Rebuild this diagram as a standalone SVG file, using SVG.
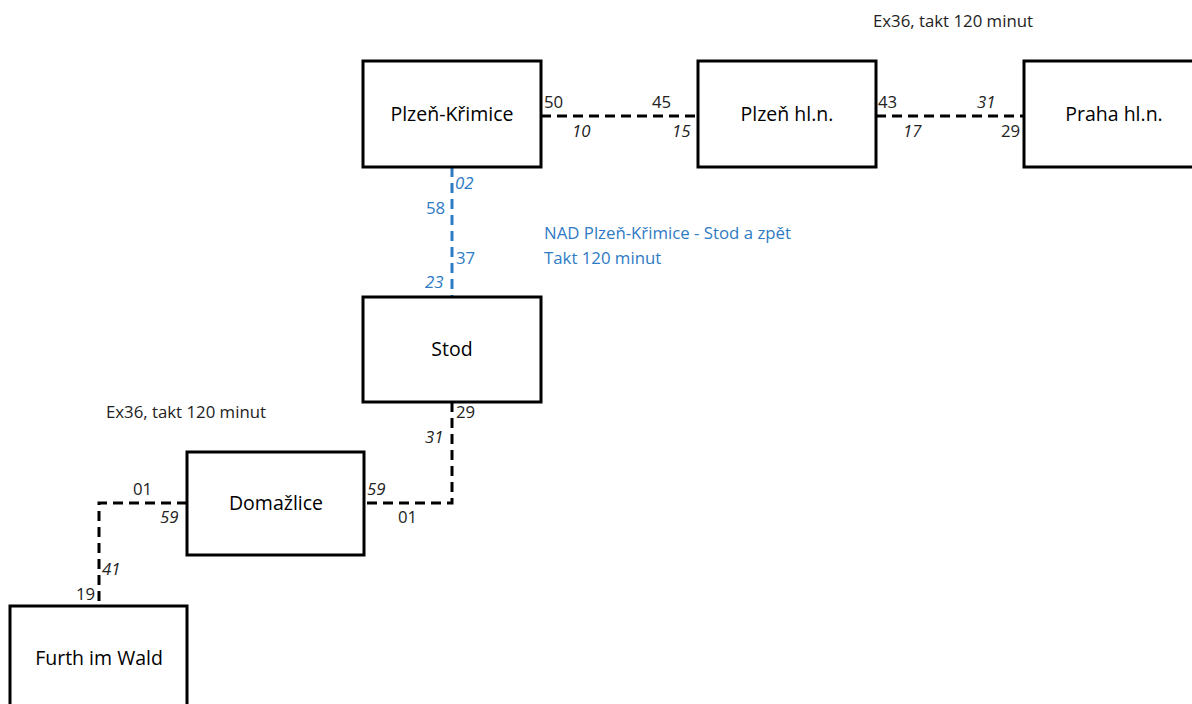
<svg xmlns="http://www.w3.org/2000/svg" width="1192" height="704" viewBox="0 0 1192 704">
<style>
.box{fill:#fff;stroke:#000;stroke-width:3}
.lbl{font-family:"Open Sans","Noto Sans",sans-serif;font-size:19.5px;fill:#000;text-anchor:middle}
.t{font-family:"Open Sans","Noto Sans",sans-serif;font-size:16.8px;fill:#222}
.i{font-style:italic}
.b{fill:#2e7bc4}
.con{fill:none;stroke:#000;stroke-width:3;stroke-dasharray:10 6}
.conb{fill:none;stroke:#2e7bc4;stroke-width:3;stroke-dasharray:10 6}
</style>
<rect width="1192" height="704" fill="#fff"/>
<g id="connectors">
<path class="con" d="M541 116 H698"/>
<path class="con" d="M876 116 H1024"/>
<path class="conb" d="M452 167 V297"/>
<path class="con" d="M452 402 V503 H364"/>
<path class="con" d="M187 503 H99 V606"/>
</g>
<g id="plzen-krimice"><rect class="box" x="363" y="61" width="178" height="106"/><text class="lbl" x="452" y="121">Plzeň-Křimice</text></g>
<g id="plzen-hln"><rect class="box" x="698" y="61" width="178" height="106"/><text class="lbl" x="787" y="121">Plzeň hl.n.</text></g>
<g id="praha-hln"><rect class="box" x="1024" y="61" width="178" height="106"/><text class="lbl" x="1114" y="121">Praha hl.n.</text></g>
<g id="stod"><rect class="box" x="363" y="297" width="178" height="105"/><text class="lbl" x="452" y="356">Stod</text></g>
<g id="domazlice"><rect class="box" x="187" y="452" width="177" height="103"/><text class="lbl" x="276" y="510">Domažlice</text></g>
<g id="furth"><rect class="box" x="10" y="606" width="177" height="110"/><text class="lbl" x="99" y="665">Furth im Wald</text></g>
<g id="labels">
<text class="t" x="873" y="27">Ex36, takt 120 minut</text>
<text class="t" x="544" y="108">50</text>
<text class="t" x="652" y="108">45</text>
<text class="t i" x="572" y="137">10</text>
<text class="t i" x="672" y="137">15</text>
<text class="t" x="878" y="108">43</text>
<text class="t i" x="977" y="108">31</text>
<text class="t i" x="903" y="137">17</text>
<text class="t" x="1001" y="137">29</text>
<text class="t i b" x="455" y="189">02</text>
<text class="t b" x="426" y="214">58</text>
<text class="t b" x="456" y="264">37</text>
<text class="t i b" x="425" y="288">23</text>
<text class="t b" x="544" y="239">NAD Plzeň-Křimice - Stod a zpět</text>
<text class="t b" x="544" y="264">Takt 120 minut</text>
<text class="t" x="456" y="418">29</text>
<text class="t i" x="425" y="443">31</text>
<text class="t i" x="367" y="495">59</text>
<text class="t" x="398" y="523">01</text>
<text class="t" x="106" y="418">Ex36, takt 120 minut</text>
<text class="t" x="133" y="495">01</text>
<text class="t i" x="160" y="523">59</text>
<text class="t i" x="102" y="575">41</text>
<text class="t" x="76" y="600">19</text>
</g>
</svg>
